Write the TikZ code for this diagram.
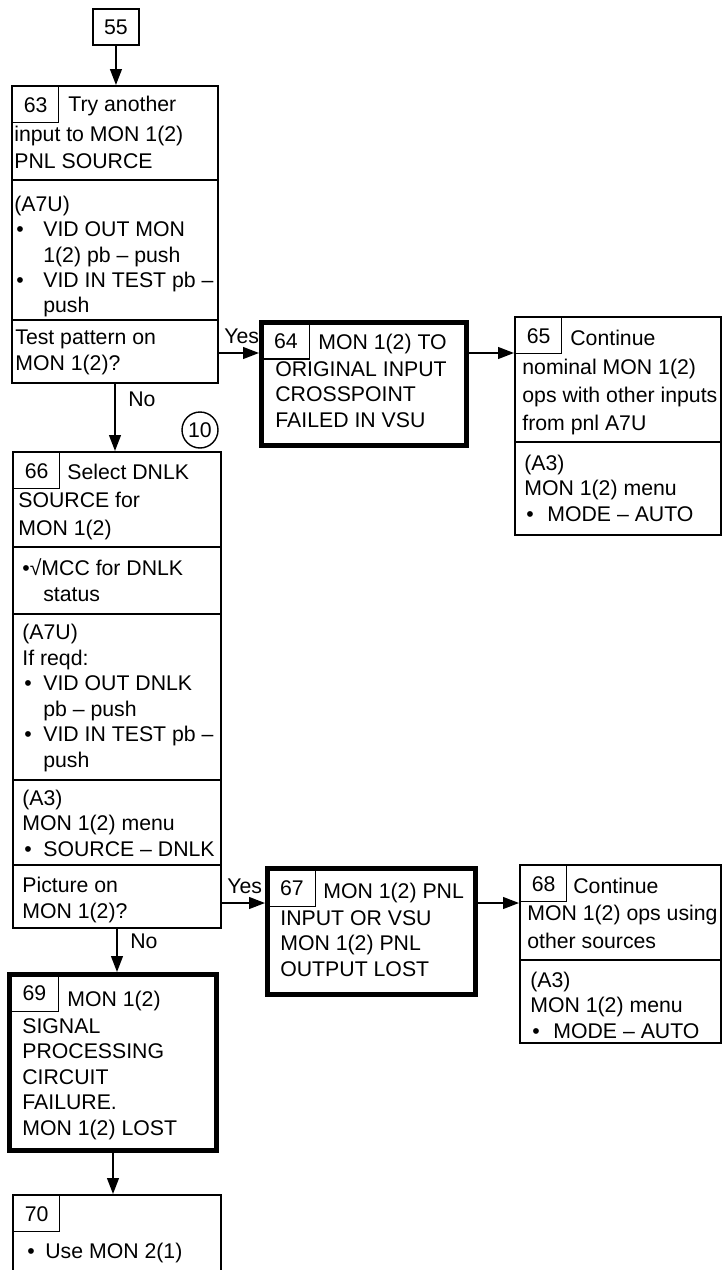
\documentclass[tikz,border=0pt]{standalone}
\usepackage{fontspec}
\setmainfont{Liberation Sans}
\usetikzlibrary{arrows.meta, positioning, fit}
\newcommand{\fs}{\fontsize{12.1}{14.5}\selectfont}
\newcommand{\fsh}{\fontsize{12.1}{15.9}\selectfont}
\newcommand{\bul}[1][0.44cm]{\makebox[#1][l]{\hspace{0.04cm}•}}
\newcommand{\ind}[1][0.44cm]{\hspace*{#1}}
\tikzset{
  stepbox/.style={draw, line width=1.1pt, inner sep=0pt},
  failbox/.style={stepbox, line width=2.8pt},
  numbox/.style={draw, line width=0.8pt, inner sep=0pt, font=\fs, anchor=north west,
                 minimum width=0.92cm, minimum height=0.72cm},
  % multi-line texts sit on the baseline of their last line
  txt/.style={font=\fs, align=left, inner sep=0pt, anchor=base west},
  hdr/.style={txt, font=\fsh},
  tag/.style={font=\fs, inner sep=0pt, anchor=base west},
  rule/.style={line width=1.1pt},
  arr/.style={-{Triangle[length=9pt,width=6.6pt]}, line width=1.1pt},
}

\begin{document}
\begin{tikzpicture}[x=0.02cm, y=-0.02cm]
\useasboundingbox (0,0) rectangle (723,1270);
\clip (0,0) rectangle (723,1270);

% ---------------- entry ----------------
\node[stepbox, anchor=north west, minimum width=0.92cm, minimum height=0.72cm, font=\fs] (b55) at (92,8) {55};

% ---------------- step 63 ----------------
\node[stepbox, fit={(12,86) (218,383)}] (b63) {};
\node[numbox] (n63) at (12,86) {63};
\node[txt] (t63a) at (68,112) {Try another};
\node[hdr] (t63b) at (14,169) {input to MON 1(2)\\PNL SOURCE};
\draw[rule] (b63.west |- 0,180) -- (b63.east |- 0,180);
\node[txt] (t63c) at (14,313) {(A7U)\\\bul[0.58cm]VID OUT MON\\\ind[0.58cm]1(2) pb – push\\\bul[0.58cm]VID IN TEST pb –\\\ind[0.58cm]push};
\draw[rule] (b63.west |- 0,320) -- (b63.east |- 0,320);
\node[txt] (t63d) at (15,370) {Test pattern on\\MON 1(2)?};

% ---------------- step 64 ----------------
\node[failbox, fit={(261.5,322.5) (466.5,445.5)}] (b64) {};
\node[numbox, minimum width=0.95cm] (n64) at (261.5,322.5) {64};
\node[txt] (t64a) at (318,349) {MON 1(2) TO};
\node[txt] (t64b) at (275,427) {ORIGINAL INPUT\\CROSSPOINT\\FAILED IN VSU};

% ---------------- step 65 ----------------
\node[stepbox, fit={(515,317) (721,535)}] (b65) {};
\node[numbox] (n65) at (515,317) {65};
\node[txt] (t65a) at (570,345) {Continue};
\node[hdr] (t65b) at (522,430) {nominal MON 1(2)\\ops with other inputs\\from pnl A7U};
\draw[rule] (b65.west |- 0,442) -- (b65.east |- 0,442);
\node[txt] (t65c) at (524,521) {(A3)\\MON 1(2) menu\\\bul[0.46cm]MODE – AUTO};

% ---------------- step 66 ----------------
\node[stepbox, fit={(13,452) (221,928)}] (b66) {};
\node[numbox] (n66) at (13,452) {66};
\node[circle, draw, line width=0.8pt, inner sep=0pt, minimum size=0.72cm, font=\fs] (c10) at (200,430) {10};
\node[txt] (t66a) at (67,479) {Select DNLK};
\node[hdr] (t66b) at (18,535) {SOURCE for\\MON 1(2)};
\draw[rule] (b66.west |- 0,547) -- (b66.east |- 0,547);
\node[txt] (t66c) at (22,601) {•√MCC for DNLK\\\ind[0.42cm]status};
\draw[rule] (b66.west |- 0,614) -- (b66.east |- 0,614);
\node[txt] (t66d) at (22,767) {(A7U)\\If reqd:\\\bul[0.42cm]VID OUT DNLK\\\ind[0.42cm]pb – push\\\bul[0.42cm]VID IN TEST pb –\\\ind[0.42cm]push};
\draw[rule] (b66.west |- 0,780) -- (b66.east |- 0,780);
\node[txt] (t66e) at (22,856) {(A3)\\MON 1(2) menu\\\bul[0.42cm]SOURCE – DNLK};
\draw[rule] (b66.west |- 0,865) -- (b66.east |- 0,865);
\node[txt] (t66f) at (22,918) {Picture on\\MON 1(2)?};

% ---------------- step 67 ----------------
\node[failbox, fit={(267.5,868.5) (475.5,994.5)}] (b67) {};
\node[numbox, minimum width=0.95cm, minimum height=0.75cm] (n67) at (267.5,868.5) {67};
\node[txt] (t67a) at (323,898) {MON 1(2) PNL};
\node[txt] (t67b) at (280,976) {INPUT OR VSU\\MON 1(2) PNL\\OUTPUT LOST};

% ---------------- step 68 ----------------
\node[stepbox, fit={(520,865) (721,1043)}] (b68) {};
\node[numbox] (n68) at (520,865) {68};
\node[txt] (t68a) at (573,893) {Continue};
\node[hdr] (t68b) at (527,948) {MON 1(2) ops using\\other sources};
\draw[rule] (b68.west |- 0,960) -- (b68.east |- 0,960);
\node[txt] (t68c) at (530,1038) {(A3)\\MON 1(2) menu\\\bul[0.46cm]MODE – AUTO};

% ---------------- step 69 ----------------
\node[failbox, fit={(9.5,974.5) (216.5,1150.5)}] (b69) {};
\node[numbox, minimum width=0.97cm] (n69) at (9.5,974.5) {69};
\node[txt] (t69a) at (67,1006) {MON 1(2)};
\node[txt] (t69b) at (22,1135) {SIGNAL\\PROCESSING\\CIRCUIT\\FAILURE.\\MON 1(2) LOST};

% ---------------- step 70 ----------------
\node[stepbox, fit={(13,1195) (221,1300)}] (b70) {};
\node[numbox] (n70) at (13,1195) {70};
\node[txt] (t70) at (25,1258) {\bul[0.4cm]Use MON 2(1)};

% ---------------- connectors ----------------
\coordinate (in64) at (b64.west |- 0,353);
\coordinate (in67) at (b67.west |- 0,903);
\draw[arr] (b55.south) -- (b55.south |- b63.north);
\draw[arr] (b63.east |- in64) -- (in64);
\draw[arr] (b64.east |- in64) -- (b65.west |- in64);
\draw[arr] (b63.south) -- (b63.south |- b66.north);
\draw[arr] (b66.east |- in67) -- (in67);
\draw[arr] (b67.east |- in67) -- (b68.west |- in67);
\draw[arr] (b66.south) -- (b66.south |- b69.north);
\draw[arr] (b69.south) -- (b69.south |- b70.north);
\node[tag] (yes1) at (224,343) {Yes};
\node[tag] (no1) at (128,406) {No};
\node[tag] (yes2) at (227,893) {Yes};
\node[tag] (no2) at (130,948) {No};
\end{tikzpicture}
\end{document}
